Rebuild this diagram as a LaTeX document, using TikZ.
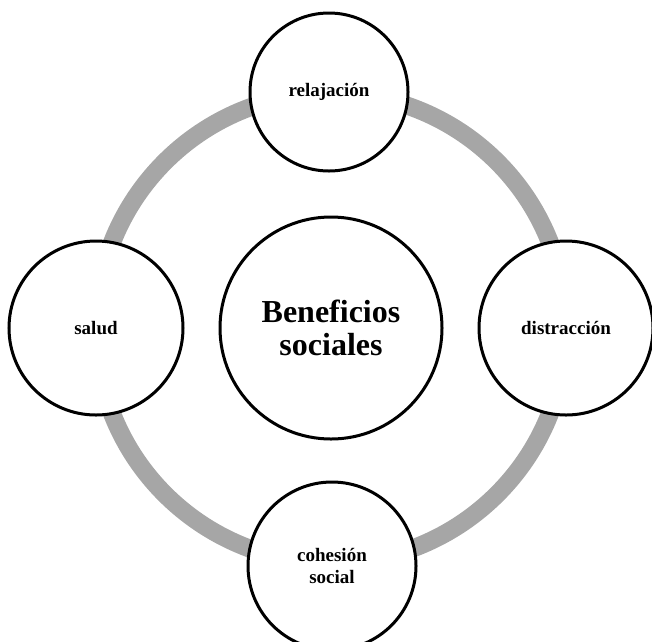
\documentclass[tikz,border=0pt]{standalone}
\usepackage{fontspec}
\setmainfont{Liberation Serif}
\definecolor{ringgray}{HTML}{A6A6A6}
\begin{document}
\begin{tikzpicture}[x=1pt,y=-1pt,
  bubble/.style={circle,draw=black,line width=3pt,fill=white,inner sep=0pt,align=center,font=\bfseries\fontsize{19}{22}\selectfont},
  hub/.style={bubble,font=\bfseries\fontsize{32}{33}\selectfont}]
\useasboundingbox (0,0) rectangle (652,641);
\clip (0,0) rectangle (652,641);
\coordinate (c) at (331,328);
\draw[ringgray,line width=18pt] (c) circle[radius=235];
\node[hub,minimum size=222pt] (center) at (c) {Beneficios\\sociales};
\node[bubble,minimum size=158pt] (top) at (329,92) {relajación};
\node[bubble,minimum size=174pt] (left) at (96,328) {salud};
\node[bubble,minimum size=174pt] (right) at (566,328) {distracción};
\node[bubble,minimum size=168pt] (bottom) at (332,566) {cohesión\\social};
\end{tikzpicture}
\end{document}
